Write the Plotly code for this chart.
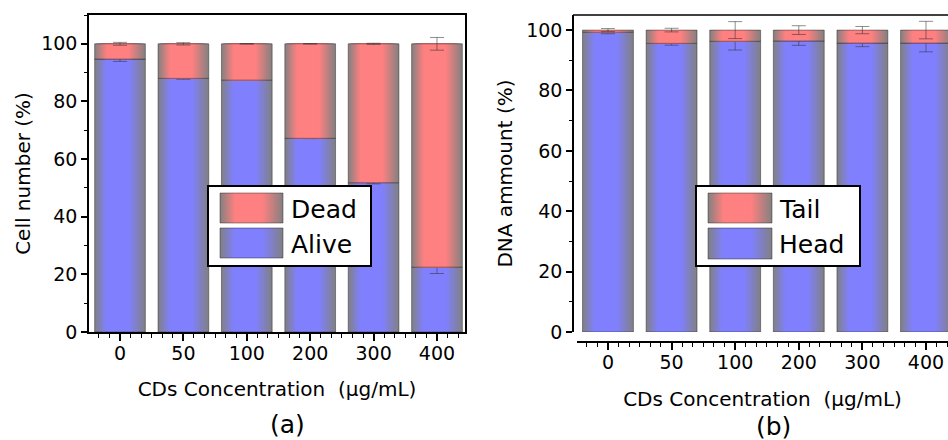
import plotly.graph_objects as go

# ---------------- data ----------------
concentrations = ["0", "50", "100", "200", "300", "400"]

alive = [94.7, 88.0, 87.4, 67.2, 51.8, 22.5]
dead = [5.3, 12.0, 12.6, 32.8, 48.2, 77.5]
alive_err = [0.8, 0.3, 0.1, 0.1, 0.4, 2.2]
dead_err = [0.5, 0.4, 0.1, 0.1, 0.2, 2.2]

head = [99.3, 95.6, 96.3, 96.4, 95.7, 95.7]
tail = [0.7, 4.4, 3.7, 3.6, 4.3, 4.3]
head_err = [0.5, 0.6, 2.9, 1.45, 1.2, 2.9]
tail_err = [0.5, 0.6, 2.8, 1.45, 1.2, 2.9]

# ---------------- style ----------------
W = 0.8            # bar width (category units)
N = 14             # gradient layers
A, B = 0.25, 0.66  # gradient profile (left ramp end, right ramp start)
BLUE = (128, 128, 255)
RED = (255, 128, 128)
GRAY = (128, 128, 128)
FONT = "DejaVu Sans, Verdana, sans-serif"
TICKFONT = dict(family=FONT, size=19, color="black")
YTITLEFONT = dict(family=FONT, size=20, color="black")
XTITLEFONT = dict(family=FONT, size=20, color="black")
ERRCOL = "rgba(50,50,50,0.55)"
OUTLINE = "rgba(30,30,30,0.45)"


def mix(c, f):
    return "rgb(%d,%d,%d)" % tuple(round(g + (cc - g) * f) for g, cc in zip(GRAY, c))


def layer_geom(k):
    L = A * k / N
    R = 1 - (1 - B) * k / N
    f = (k + 1) / N
    return L, R, f


xpos = list(range(len(concentrations)))
fig = go.Figure()


def add_stack(vals, base, err, color, xa, ya):
    for k in range(N):
        L, R, f = layer_geom(k)
        fig.add_trace(go.Bar(
            x=xpos, y=vals, base=base,
            width=W * (R - L), offset=-W / 2 + W * L,
            marker=dict(color=mix(color, f), line=dict(width=0)),
            xaxis=xa, yaxis=ya, showlegend=False, hoverinfo="skip"))
    fig.add_trace(go.Bar(
        x=xpos, y=vals, base=base, width=W, offset=-W / 2,
        marker=dict(color="rgba(0,0,0,0)", line=dict(color=OUTLINE, width=1)),
        error_y=dict(type="data", array=err, color=ERRCOL, thickness=1, width=7),
        xaxis=xa, yaxis=ya, showlegend=False, hoverinfo="skip"))


add_stack(alive, [0] * len(alive), alive_err, BLUE, "x", "y")
add_stack(dead, alive, dead_err, RED, "x", "y")
add_stack(head, [0] * len(head), head_err, BLUE, "x2", "y2")
add_stack(tail, head, tail_err, RED, "x2", "y2")

FW, FH = 948, 440


def px(x):
    return x / FW


def py(y):
    return 1 - y / FH


shapes = []
annotations = []


def legend(box, sw_x, rows):
    x0, x1, y0, y1 = box
    shapes.append(dict(type="rect", xref="paper", yref="paper",
                       x0=px(x0), x1=px(x1), y0=py(y1), y1=py(y0),
                       fillcolor="white", line=dict(color="black", width=2), layer="above"))
    sx0, sx1 = sw_x
    for label, color, (ry0, ry1), tx in rows:
        w = sx1 - sx0
        for k in range(N):
            L, R, f = layer_geom(k)
            shapes.append(dict(type="rect", xref="paper", yref="paper",
                               x0=px(sx0 + w * L), x1=px(sx0 + w * R),
                               y0=py(ry1), y1=py(ry0),
                               fillcolor=mix(color, f), line=dict(width=0), layer="above"))
        shapes.append(dict(type="rect", xref="paper", yref="paper",
                           x0=px(sx0), x1=px(sx1), y0=py(ry1), y1=py(ry0),
                           fillcolor="rgba(0,0,0,0)", line=dict(color=OUTLINE, width=1),
                           layer="above"))
        annotations.append(dict(text=label, xref="paper", yref="paper",
                                x=px(tx), y=py((ry0 + ry1) / 2 + 1), xanchor="left",
                                yanchor="middle", showarrow=False,
                                font=dict(family=FONT, size=25, color="black")))


legend((208, 371, 186, 266), (220, 283),
       [("Dead", RED, (193, 223), 289), ("Alive", BLUE, (228, 258), 289)])
legend((696, 860, 186, 266), (708, 772),
       [("Tail", RED, (193, 223), 777), ("Head", BLUE, (228, 259), 777)])

# panel (b) top border
shapes.append(dict(type="line", xref="paper", yref="paper",
                   x0=px(573), x1=1, y0=py(15), y1=py(15),
                   line=dict(color="black", width=1.5)))

annotations.append(dict(text="(a)", xref="paper", yref="paper", x=px(287), y=py(424),
                        showarrow=False, xanchor="center", yanchor="middle",
                        font=dict(family=FONT, size=25, color="black")))
annotations.append(dict(text="(b)", xref="paper", yref="paper", x=px(773), y=py(426),
                        showarrow=False, xanchor="center", yanchor="middle",
                        font=dict(family=FONT, size=25, color="black")))

xcommon = dict(
    tickmode="array", tickvals=xpos, ticktext=concentrations,
    ticks="outside", ticklen=7, tickwidth=1.5, tickcolor="black",
    minor=dict(dtick=1 / 6, tick0=0, ticks="outside", ticklen=4, tickwidth=1.2,
               tickcolor="black", showgrid=False),
    showline=True, linecolor="black", linewidth=1.5,
    showgrid=False, zeroline=False, tickfont=TICKFONT, ticklabelstandoff=-4,
    automargin=False,
    title=dict(text="CDs Concentration  (µg/mL)", font=XTITLEFONT, standoff=19),
)
ycommon = dict(
    tickmode="linear", tick0=0, dtick=20,
    ticks="outside", ticklen=6, tickwidth=1.5, tickcolor="black",
    minor=dict(dtick=10, ticks="outside", ticklen=3.5, tickwidth=1.2,
               tickcolor="black", showgrid=False),
    showline=True, linecolor="black", linewidth=1.5,
    showgrid=False, zeroline=False, tickfont=TICKFONT, automargin=False,
)

fig.update_layout(
    width=FW, height=FH,
    margin=dict(l=0, r=0, t=0, b=0, autoexpand=False),
    paper_bgcolor="white", plot_bgcolor="white",
    barmode="overlay",
    showlegend=False,
    shapes=shapes, annotations=annotations,
    xaxis=dict(xcommon, domain=[px(89), px(465)], range=[-0.489, 5.442],
               anchor="y", mirror=True),
    yaxis=dict(ycommon, domain=[py(332), py(15)], range=[0, 110], anchor="x",
               mirror=True,
               title=dict(text="Cell number (%)", font=YTITLEFONT, standoff=5)),
    xaxis2=dict(xcommon, domain=[px(577), 1.0], range=[-0.487, 5.346],
                anchor="free", position=py(342)),
    yaxis2=dict(ycommon, domain=[py(332), py(15)], range=[0, 105],
                anchor="free", position=px(573),
                title=dict(text="DNA ammount (%)", font=YTITLEFONT, standoff=7)),
)

fig.write_html("out.html", config={"displayModeBar": False},
               post_script="document.body.style.margin='0';")
